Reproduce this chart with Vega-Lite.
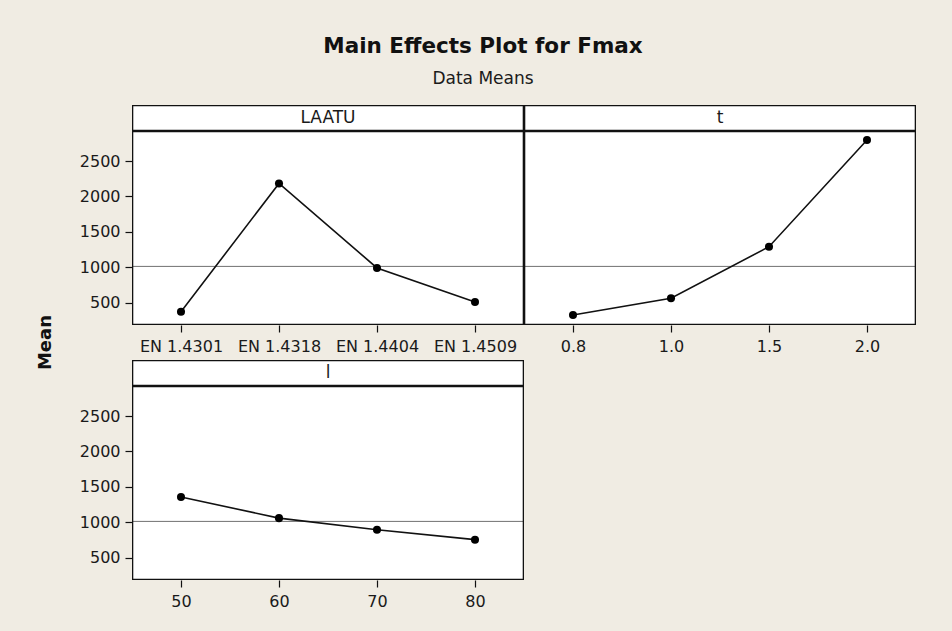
{
  "$schema": "https://vega.github.io/schema/vega-lite/v6.json",
  "background": "#f0ece3",
  "padding": {"left": 36, "top": 35, "right": 36, "bottom": 22},
  "title": {
    "text": "Main Effects Plot for Fmax",
    "subtitle": "Data Means",
    "anchor": "middle",
    "dx": 7,
    "font": "DejaVu Sans",
    "fontSize": 21.5,
    "fontWeight": "bold",
    "color": "#111111",
    "subtitleFont": "DejaVu Sans",
    "subtitleFontSize": 17,
    "subtitleColor": "#1a1a1a",
    "subtitlePadding": 14,
    "offset": 18
  },
  "datasets": {
    "laatu": [
      {"LAATU": "EN 1.4301", "Mean": 372},
      {"LAATU": "EN 1.4318", "Mean": 2184},
      {"LAATU": "EN 1.4404", "Mean": 990},
      {"LAATU": "EN 1.4509", "Mean": 510}
    ],
    "t": [
      {"t": "0.8", "Mean": 326},
      {"t": "1.0", "Mean": 562},
      {"t": "1.5", "Mean": 1290},
      {"t": "2.0", "Mean": 2798}
    ],
    "l": [
      {"l": 50, "Mean": 1358},
      {"l": 60, "Mean": 1058},
      {"l": 70, "Mean": 895},
      {"l": 80, "Mean": 754}
    ],
    "grand": [{"Mean": 1012}],
    "yl": [{"name": "Mean"}],
    "sA": [{"name": "LAATU"}],
    "sB": [{"name": "t"}],
    "sC": [{"name": "l"}]
  },
  "spacing": 23,
  "hconcat": [
    {
      "data": {"name": "yl"},
      "width": 20,
      "height": 475,
      "view": {"stroke": null, "fill": null},
      "mark": {"type": "text", "angle": 270, "font": "DejaVu Sans", "fontSize": 18, "fontWeight": "bold", "color": "#111111", "baseline": "middle", "align": "center"},
      "encoding": {"text": {"field": "name", "type": "nominal"}}
    },
    {
      "spacing": 6,
      "vconcat": [
        {
          "spacing": 0,
          "hconcat": [
            {
              "spacing": 0,
              "vconcat": [
                {
                  "data": {"name": "sA"},
                  "width": 392,
                  "height": 26,
                  "layer": [
                    {"mark": {"type": "rect", "fill": "white", "stroke": null, "clip": true}, "encoding": {}},
                    {"mark": {"type": "text", "font": "DejaVu Sans", "fontSize": 17, "color": "#1a1a1a", "baseline": "middle"}, "encoding": {"text": {"field": "name", "type": "nominal"}}},
                    {"mark": {"type": "rect", "fill": null, "stroke": "#111111", "strokeWidth": 2.6, "clip": true}, "encoding": {}}
                  ]
                },
                {
                  "width": 392,
                  "height": 194,
                  "layer": [
                    {
                      "data": {"name": "grand"},
                      "mark": {"type": "rect", "fill": "white", "stroke": null, "clip": true},
                      "encoding": {}
                    },
                    {
                      "data": {"name": "grand"},
                      "mark": {"type": "rule", "color": "#707070", "strokeWidth": 1, "clip": true},
                      "encoding": {"y": {"field": "Mean", "type": "quantitative", "scale": {"domain": [184, 2925], "nice": false, "zero": false}, "axis": {"values": [500, 1000, 1500, 2000, 2500], "format": "d", "title": null}}}
                    },
                    {
                      "data": {"name": "laatu"},
                      "mark": {"type": "line", "color": "#111111", "strokeWidth": 1.6, "point": {"filled": true, "color": "black", "size": 65, "opacity": 1}},
                      "encoding": {
                        "x": {"field": "LAATU", "type": "ordinal", "scale": {"type": "point", "padding": 0.5}, "axis": {"title": null, "labelAngle": 0}},
                        "y": {"field": "Mean", "type": "quantitative", "scale": {"domain": [184, 2925], "nice": false, "zero": false}, "axis": {"values": [500, 1000, 1500, 2000, 2500], "format": "d", "title": null}}
                      }
                    },
                    {
                      "data": {"name": "grand"},
                      "mark": {"type": "rect", "fill": null, "stroke": "#111111", "strokeWidth": 2.6, "clip": true},
                      "encoding": {}
                    }
                  ]
                }
              ]
            },
            {
              "spacing": 0,
              "vconcat": [
                {
                  "data": {"name": "sB"},
                  "width": 392,
                  "height": 26,
                  "layer": [
                    {"mark": {"type": "rect", "fill": "white", "stroke": null, "clip": true}, "encoding": {}},
                    {"mark": {"type": "text", "font": "DejaVu Sans", "fontSize": 17, "color": "#1a1a1a", "baseline": "middle"}, "encoding": {"text": {"field": "name", "type": "nominal"}}},
                    {"mark": {"type": "rect", "fill": null, "stroke": "#111111", "strokeWidth": 2.6, "clip": true}, "encoding": {}}
                  ]
                },
                {
                  "width": 392,
                  "height": 194,
                  "layer": [
                    {
                      "data": {"name": "grand"},
                      "mark": {"type": "rect", "fill": "white", "stroke": null, "clip": true},
                      "encoding": {}
                    },
                    {
                      "data": {"name": "grand"},
                      "mark": {"type": "rule", "color": "#707070", "strokeWidth": 1, "clip": true},
                      "encoding": {"y": {"field": "Mean", "type": "quantitative", "scale": {"domain": [184, 2925], "nice": false, "zero": false}, "axis": null}}
                    },
                    {
                      "data": {"name": "t"},
                      "mark": {"type": "line", "color": "#111111", "strokeWidth": 1.6, "point": {"filled": true, "color": "black", "size": 65, "opacity": 1}},
                      "encoding": {
                        "x": {"field": "t", "type": "ordinal", "scale": {"type": "point", "padding": 0.5}, "axis": {"title": null, "labelAngle": 0}},
                        "y": {"field": "Mean", "type": "quantitative", "scale": {"domain": [184, 2925], "nice": false, "zero": false}, "axis": null}
                      }
                    },
                    {
                      "data": {"name": "grand"},
                      "mark": {"type": "rect", "fill": null, "stroke": "#111111", "strokeWidth": 2.6, "clip": true},
                      "encoding": {}
                    }
                  ]
                }
              ]
            }
          ]
        },
        {
          "spacing": 0,
          "vconcat": [
            {
              "data": {"name": "sC"},
              "width": 392,
              "height": 26,
              "layer": [
                {"mark": {"type": "rect", "fill": "white", "stroke": null, "clip": true}, "encoding": {}},
                {"mark": {"type": "text", "font": "DejaVu Sans", "fontSize": 17, "color": "#1a1a1a", "baseline": "middle"}, "encoding": {"text": {"field": "name", "type": "nominal"}}},
                {"mark": {"type": "rect", "fill": null, "stroke": "#111111", "strokeWidth": 2.6, "clip": true}, "encoding": {}}
              ]
            },
            {
              "width": 392,
              "height": 194,
              "layer": [
                {
                  "data": {"name": "grand"},
                  "mark": {"type": "rect", "fill": "white", "stroke": null, "clip": true},
                  "encoding": {}
                },
                {
                  "data": {"name": "grand"},
                  "mark": {"type": "rule", "color": "#707070", "strokeWidth": 1, "clip": true},
                  "encoding": {"y": {"field": "Mean", "type": "quantitative", "scale": {"domain": [184, 2925], "nice": false, "zero": false}, "axis": {"values": [500, 1000, 1500, 2000, 2500], "format": "d", "title": null}}}
                },
                {
                  "data": {"name": "l"},
                  "mark": {"type": "line", "color": "#111111", "strokeWidth": 1.6, "point": {"filled": true, "color": "black", "size": 65, "opacity": 1}},
                  "encoding": {
                    "x": {"field": "l", "type": "ordinal", "scale": {"type": "point", "padding": 0.5}, "axis": {"title": null, "labelAngle": 0}},
                    "y": {"field": "Mean", "type": "quantitative", "scale": {"domain": [184, 2925], "nice": false, "zero": false}, "axis": {"values": [500, 1000, 1500, 2000, 2500], "format": "d", "title": null}}
                  }
                },
                {
                  "data": {"name": "grand"},
                  "mark": {"type": "rect", "fill": null, "stroke": "#111111", "strokeWidth": 2.6, "clip": true},
                  "encoding": {}
                }
              ]
            }
          ]
        }
      ]
    }
  ],
  "config": {
    "view": {"stroke": null, "fill": "white"},
    "axis": {
      "domain": false,
      "grid": false,
      "tickColor": "#111111",
      "tickSize": 7,
      "tickWidth": 1.2,
      "labelFont": "DejaVu Sans",
      "labelFontSize": 16,
      "labelColor": "#1a1a1a"
    },
    "axisX": {"labelPadding": 6},
    "axisY": {"labelPadding": 5}
  }
}
